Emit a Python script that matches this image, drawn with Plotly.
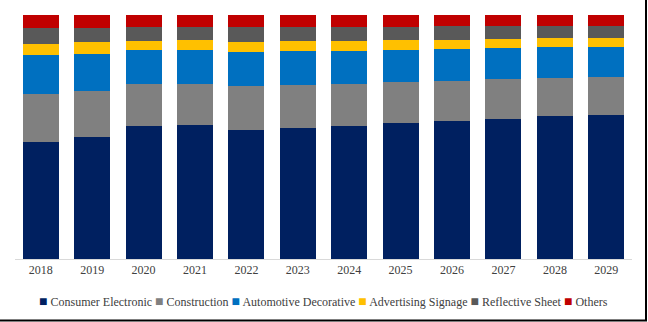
import plotly.graph_objects as go

years = ["2018", "2019", "2020", "2021", "2022", "2023", "2024", "2025", "2026", "2027", "2028", "2029"]
consumer_electronic = [48.0, 50.1, 54.5, 54.9, 52.9, 53.7, 54.5, 55.7, 56.7, 57.5, 58.7, 59.1]
construction = [19.7, 18.7, 17.2, 16.8, 18.0, 17.6, 17.2, 16.8, 16.3, 16.3, 15.5, 15.5]
automotive_decorative = [16.0, 15.2, 13.9, 13.9, 13.9, 13.9, 13.5, 13.1, 13.1, 12.7, 12.7, 12.3]
advertising_signage = [4.6, 4.8, 3.7, 4.1, 4.1, 4.1, 4.1, 4.1, 3.7, 3.7, 3.7, 3.7]
reflective_sheet = [6.4, 5.9, 5.7, 5.3, 6.1, 5.7, 5.7, 5.3, 5.7, 5.3, 4.9, 4.9]
others = [5.3, 5.3, 4.9, 4.9, 4.9, 4.9, 4.9, 4.9, 4.5, 4.5, 4.5, 4.5]

series = [
    ("Consumer Electronic", consumer_electronic, "#002060"),
    ("Construction", construction, "#808080"),
    ("Automotive Decorative", automotive_decorative, "#0070C0"),
    ("Advertising Signage", advertising_signage, "#FFC000"),
    ("Reflective Sheet", reflective_sheet, "#595959"),
    ("Others", others, "#C00000"),
]

SERIF = "Liberation Serif, Times New Roman, serif"

fig = go.Figure()
for name, vals, color in series:
    fig.add_trace(go.Bar(x=years, y=vals, name=name, marker=dict(color=color, line=dict(width=0))))

W, H = 648, 322
L, R, T, B = 15, 16, 15, 63
pw, ph = W - L - R, H - T - B

def px(x):
    return (x - L) / pw

def py(y):
    return (H - B - y) / ph

legend_text = " ".join(
    f"<span style='color:{c};font-size:14px'>■</span> {n}" for n, _, c in series
)

fig.update_layout(
    barmode="stack",
    barnorm="percent",
    bargap=0.3,
    width=W, height=H,
    margin=dict(l=L, r=R, t=T, b=B, autoexpand=False),
    paper_bgcolor="white",
    plot_bgcolor="white",
    font=dict(family=SERIF, size=12, color="#404040"),
    showlegend=False,
    xaxis=dict(showline=True, linecolor="#D9D9D9", linewidth=1, ticks="", showgrid=False,
               tickfont=dict(family=SERIF, size=12, color="#404040")),
    yaxis=dict(range=[0, 100], visible=False, showgrid=False),
    annotations=[
        dict(text=legend_text, xref="paper", yref="paper", x=px(323), y=py(301),
             xanchor="center", yanchor="middle", showarrow=False,
             font=dict(family=SERIF, size=12, color="#404040")),
    ],
    shapes=[
        dict(type="line", xref="paper", yref="paper", x0=px(646), x1=px(646), y0=py(0), y1=py(321),
             line=dict(color="black", width=2)),
        dict(type="line", xref="paper", yref="paper", x0=px(0), x1=px(647), y0=py(320.5), y1=py(320.5),
             line=dict(color="black", width=2)),
    ],
)

fig.write_html("out.html")
